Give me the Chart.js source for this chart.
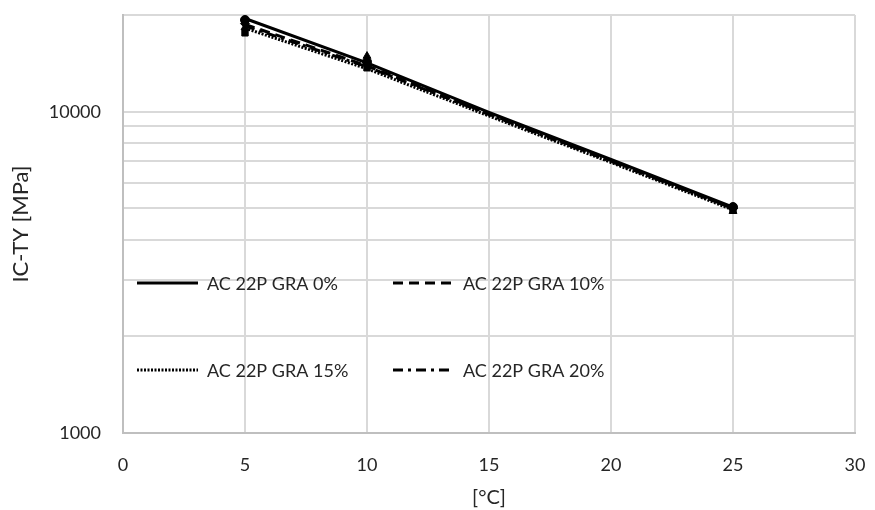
<!DOCTYPE html>
<html><head><meta charset="utf-8">
<script src="https://cdn.jsdelivr.net/npm/chart.js@4.4.0/dist/chart.umd.min.js"></script>
<style>html,body{margin:0;padding:0;background:#fff}#wrap{width:875px;height:510px}</style>
</head><body><div id="wrap"><canvas id="c" width="875" height="510"></canvas></div>
<script>
// ---- data ----
const lineX = [5, 10, 15, 20, 25];
const line0 = [19500, 14200, 9950, 7100, 5050];
const line10 = [18700, 13900, 9850, 7050, 5000];
const line15 = [18200, 13600, 9700, 6950, 4950];
const line20 = [18500, 13800, 9800, 7000, 5000];
const pointX = [5, 10, 25];
const pts0 = [19300, 14300, 5050];
const pts10 = [18300, 14900, 4900];
const pts15 = [17600, 13700, 4950];
const pts20 = [18800, 14000, 5000];
const seriesNames = ['AC 22P GRA 0%', 'AC 22P GRA 10%', 'AC 22P GRA 15%', 'AC 22P GRA 20%'];
const yTicks = [1000, 2000, 3000, 4000, 5000, 6000, 7000, 8000, 9000, 10000, 20000];
const yLabels = [1000, 10000];
const xTicks = [0, 5, 10, 15, 20, 25, 30];

const FONT = 'Lato, "Open Sans", sans-serif';
const TXT = '#262626';
const zip = (xs, ys) => xs.map((x, i) => ({x, y: ys[i]}));
const dashes = [[], [10, 6], [2, 1.5], [10, 5, 3, 5]];
const shapes = ['circle', 'triangle', 'rect', 'rectRot'];
const lineData = [line0, line10, line15, line20];
const ptsData = [pts0, pts10, pts15, pts20];

const datasets = [];
lineData.forEach((d, i) => datasets.push({
  label: seriesNames[i], data: zip(lineX, d), showLine: true,
  borderColor: '#000', borderWidth: 3, borderDash: dashes[i],
  pointRadius: 0, isLine: true, order: 1
}));
ptsData.forEach((d, i) => datasets.push({
  label: seriesNames[i] + ' pts', data: zip(pointX, d), showLine: false,
  backgroundColor: '#000', borderColor: '#000', pointStyle: shapes[i],
  pointRadius: 4.5, order: 2
}));

const legendPlugin = {
  id: 'inLegend',
  afterDatasetsDraw(chart) {
    const ctx = chart.ctx;
    const pos = [[137, 283], [393, 283], [137, 370], [393, 370]];
    ctx.save();
    chart.data.datasets.filter(d => d.isLine).forEach((ds, i) => {
      const [x, y] = pos[i];
      ctx.strokeStyle = '#000'; ctx.lineWidth = 3;
      ctx.setLineDash(ds.borderDash);
      ctx.beginPath(); ctx.moveTo(x, y); ctx.lineTo(x + 61, y); ctx.stroke();
      ctx.setLineDash([]);
      ctx.fillStyle = TXT; ctx.font = '18px ' + FONT;
      ctx.textBaseline = 'middle'; ctx.textAlign = 'left';
      ctx.fillText(ds.label, x + 70, y + 1);
    });
    ctx.restore();
  }
};

new Chart(document.getElementById('c'), {
  type: 'scatter',
  data: {datasets},
  plugins: [legendPlugin],
  options: {
    responsive: false, animation: false,
    layout: {padding: {top: 15, right: 20, left: 0, bottom: 0}},
    plugins: {legend: {display: false}, tooltip: {enabled: false}},
    scales: {
      x: {
        type: 'linear', min: 0, max: 30,
        afterBuildTicks(s) { s.ticks = xTicks.map(v => ({value: v})); },
        afterFit(s) { s.height = 77; s.paddingLeft = 0; s.paddingRight = 0; },
        grid: {color: '#d9d9d9', lineWidth: 2, drawTicks: false},
        border: {color: '#bfbfbf', width: 2},
        ticks: {color: TXT, font: {family: FONT, size: 18}, padding: 21, maxRotation: 0},
        title: {display: true, text: '[°C]', color: TXT, font: {family: FONT, size: 20}, padding: {top: 2, bottom: 0}}
      },
      y: {
        type: 'logarithmic', min: 1000, max: 20000,
        afterBuildTicks(s) { s.ticks = yTicks.map(v => ({value: v})); },
        afterFit(s) { s.width = 123; s.paddingTop = 0; s.paddingBottom = 0; },
        grid: {color: '#d9d9d9', lineWidth: 2, drawTicks: false},
        border: {color: '#bfbfbf', width: 2},
        ticks: {color: TXT, font: {family: FONT, size: 18}, padding: 22,
          callback: v => yLabels.includes(v) ? String(v) : ''},
        title: {display: true, text: 'IC-TY [MPa]', color: TXT, font: {family: FONT, size: 22}, padding: {top: 8, bottom: 0}}
      }
    }
  }
});
</script></body></html>
